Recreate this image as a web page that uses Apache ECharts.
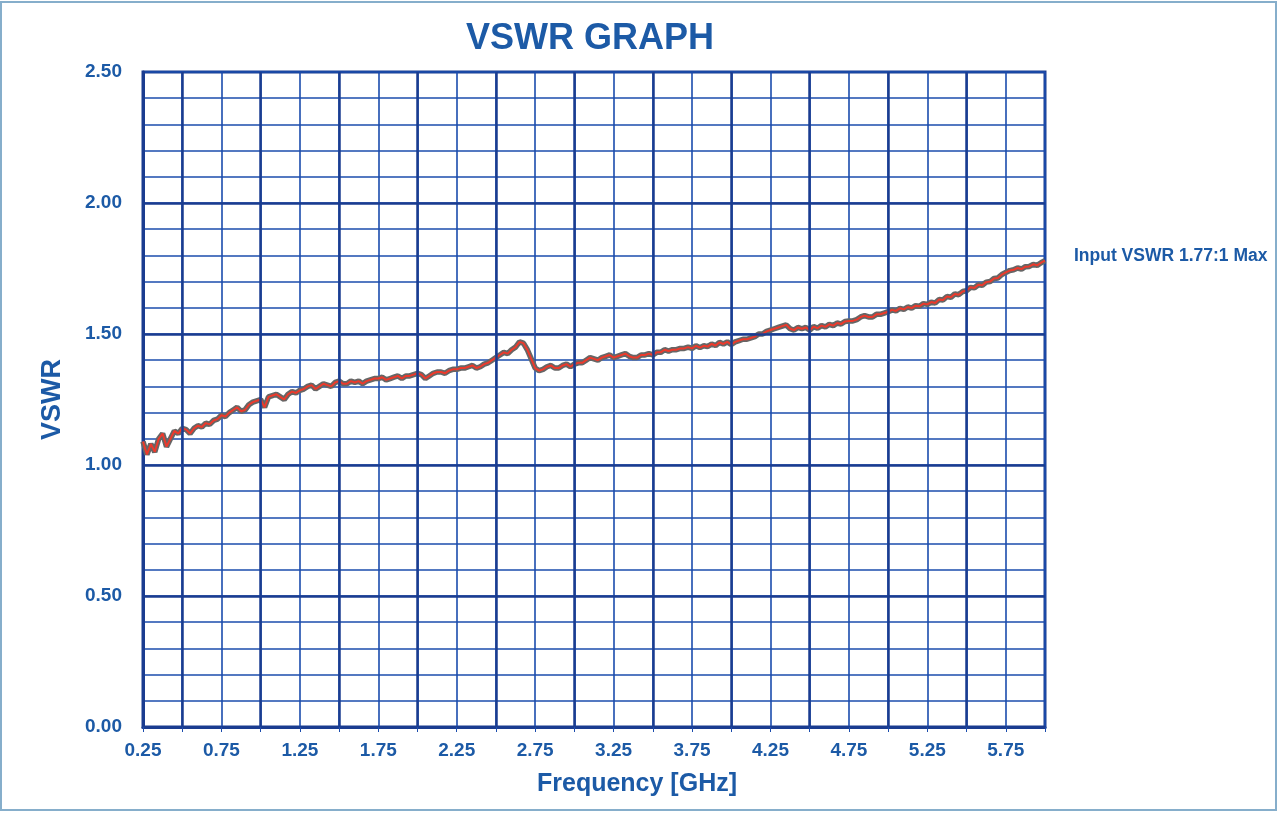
<!DOCTYPE html>
<html>
<head>
<meta charset="utf-8">
<script src="https://cdn.jsdelivr.net/npm/echarts@6/dist/echarts.min.js"></script>
<style>
  html, body { margin: 0; padding: 0; background: #fff; }
  #vswr { width: 1278px; height: 813px; }
</style>
</head>
<body>
<div id="vswr"></div>
<script>
// sweep frequencies [GHz], one row per 0.25 GHz
let freq = [
  0.25, 0.275, 0.30, 0.325, 0.35, 0.375, 0.40, 0.425, 0.45, 0.475,
  0.50, 0.525, 0.55, 0.575, 0.60, 0.625, 0.65, 0.675, 0.70, 0.725,
  0.75, 0.775, 0.80, 0.825, 0.85, 0.875, 0.90, 0.925, 0.95, 0.975,
  1.00, 1.025, 1.05, 1.075, 1.10, 1.125, 1.15, 1.175, 1.20, 1.225,
  1.25, 1.275, 1.30, 1.325, 1.35, 1.375, 1.40, 1.425, 1.45, 1.475,
  1.50, 1.525, 1.55, 1.575, 1.60, 1.625, 1.65, 1.675, 1.70, 1.725,
  1.75, 1.775, 1.80, 1.825, 1.85, 1.875, 1.90, 1.925, 1.95, 1.975,
  2.00, 2.025, 2.05, 2.075, 2.10, 2.125, 2.15, 2.175, 2.20, 2.225,
  2.25, 2.275, 2.30, 2.325, 2.35, 2.375, 2.40, 2.425, 2.45, 2.475,
  2.50, 2.525, 2.55, 2.575, 2.60, 2.625, 2.65, 2.675, 2.70, 2.725,
  2.75, 2.775, 2.80, 2.825, 2.85, 2.875, 2.90, 2.925, 2.95, 2.975,
  3.00, 3.025, 3.05, 3.075, 3.10, 3.125, 3.15, 3.175, 3.20, 3.225,
  3.25, 3.275, 3.30, 3.325, 3.35, 3.375, 3.40, 3.425, 3.45, 3.475,
  3.50, 3.525, 3.55, 3.575, 3.60, 3.625, 3.65, 3.675, 3.70, 3.725,
  3.75, 3.775, 3.80, 3.825, 3.85, 3.875, 3.90, 3.925, 3.95, 3.975,
  4.00, 4.025, 4.05, 4.075, 4.10, 4.125, 4.15, 4.175, 4.20, 4.225,
  4.25, 4.275, 4.30, 4.325, 4.35, 4.375, 4.40, 4.425, 4.45, 4.475,
  4.50, 4.525, 4.55, 4.575, 4.60, 4.625, 4.65, 4.675, 4.70, 4.725,
  4.75, 4.775, 4.80, 4.825, 4.85, 4.875, 4.90, 4.925, 4.95, 4.975,
  5.00, 5.025, 5.05, 5.075, 5.10, 5.125, 5.15, 5.175, 5.20, 5.225,
  5.25, 5.275, 5.30, 5.325, 5.35, 5.375, 5.40, 5.425, 5.45, 5.475,
  5.50, 5.525, 5.55, 5.575, 5.60, 5.625, 5.65, 5.675, 5.70, 5.725,
  5.75, 5.775, 5.80, 5.825, 5.85, 5.875, 5.90, 5.925, 5.95, 5.975,
  6.00
];
// VSWR, same layout as freq
let vswr = [
  1.09, 1.04, 1.08, 1.05, 1.10, 1.12, 1.07, 1.10, 1.13, 1.12,
  1.14, 1.135, 1.12, 1.14, 1.15, 1.145, 1.16, 1.155, 1.17, 1.175,
  1.19, 1.185, 1.20, 1.21, 1.22, 1.205, 1.21, 1.23, 1.24, 1.245,
  1.25, 1.22, 1.26, 1.265, 1.27, 1.26, 1.25, 1.27, 1.28, 1.275,
  1.285, 1.29, 1.30, 1.305, 1.29, 1.30, 1.31, 1.305, 1.30, 1.315,
  1.32, 1.31, 1.31, 1.32, 1.315, 1.32, 1.31, 1.32, 1.325, 1.33,
  1.33, 1.335, 1.325, 1.33, 1.335, 1.34, 1.33, 1.34, 1.34, 1.345,
  1.35, 1.345, 1.33, 1.34, 1.35, 1.355, 1.355, 1.35, 1.36, 1.365,
  1.365, 1.37, 1.37, 1.375, 1.38, 1.37, 1.375, 1.385, 1.39, 1.40,
  1.41, 1.42, 1.43, 1.425, 1.44, 1.45, 1.47, 1.465, 1.44, 1.405,
  1.37, 1.36, 1.365, 1.375, 1.38, 1.37, 1.37, 1.38, 1.385, 1.375,
  1.385, 1.39, 1.39, 1.40, 1.41, 1.405, 1.40, 1.41, 1.415, 1.42,
  1.41, 1.415, 1.42, 1.425, 1.415, 1.41, 1.41, 1.42, 1.42, 1.425,
  1.42, 1.43, 1.43, 1.44, 1.435, 1.44, 1.44, 1.445, 1.445, 1.45,
  1.445, 1.455, 1.448, 1.455, 1.452, 1.462, 1.456, 1.468, 1.462, 1.47,
  1.46, 1.47, 1.475, 1.48, 1.48, 1.485, 1.49, 1.50, 1.50, 1.51,
  1.515, 1.52, 1.525, 1.53, 1.535, 1.52, 1.515, 1.525, 1.52, 1.525,
  1.515, 1.528, 1.522, 1.532, 1.527, 1.537, 1.532, 1.542, 1.538, 1.548,
  1.55, 1.55, 1.555, 1.565, 1.57, 1.565, 1.565, 1.575, 1.575, 1.58,
  1.585, 1.592, 1.588, 1.598, 1.594, 1.603, 1.599, 1.608, 1.606, 1.616,
  1.613, 1.622, 1.618, 1.632, 1.63, 1.643, 1.64, 1.653, 1.65, 1.662,
  1.665, 1.678, 1.676, 1.688, 1.686, 1.698, 1.70, 1.712, 1.714, 1.727,
  1.735, 1.742, 1.745, 1.752, 1.748, 1.757, 1.758, 1.766, 1.762, 1.772,
  1.78
];
let xMin = 0.25, xMax = 6.0, xStep = 0.25;
let yMin = 0, yMax = 2.5, yStep = 0.1;

let blue = '#1c5aa6';
let gridBlue = '#1b4cad';
let darkBlue = '#1a3c90';
let font = 'Liberation Sans';

let pts = freq.map((f, i) => [f, vswr[i]]);

// heavier grid lines every 0.5 (both directions)
let heavy = [];
for (let v = 0.5; v < xMax; v += 0.5) heavy.push({ xAxis: v });
for (let v = 0.5; v < yMax; v += 0.5) heavy.push({ yAxis: v });

let myChart = echarts.init(document.getElementById('vswr'));
let option = {
  backgroundColor: '#fff',
  animation: false,
  title: [
    {
      text: 'VSWR GRAPH',
      left: 585, top: 16, textAlign: 'center',
      textStyle: { color: blue, fontSize: 36, fontWeight: 'bold', fontFamily: font }
    },
    {
      text: 'Input VSWR 1.77:1 Max',
      left: 1069, top: 242,
      textStyle: { color: blue, fontSize: 17.5, fontWeight: 'bold', fontFamily: font }
    }
  ],
  graphic: [{
    type: 'rect', shape: { x: 1, y: 2, width: 1275, height: 808 },
    style: { fill: 'none', stroke: '#86aecb', lineWidth: 2 }, silent: true
  }],
  grid: {
    left: 143, right: 233, top: 72, bottom: 86,
    show: true, borderColor: darkBlue, borderWidth: 3
  },
  xAxis: {
    type: 'value', min: xMin, max: xMax, interval: xStep,
    name: 'Frequency [GHz]', nameLocation: 'middle', nameGap: 45,
    nameTextStyle: { color: blue, fontSize: 25, fontWeight: 'bold', fontFamily: font, padding: [0, 0, 0, 86] },
    axisLine: { show: true, lineStyle: { color: darkBlue, width: 3 } },
    axisTick: { show: true, length: 5, lineStyle: { color: gridBlue } },
    axisLabel: {
      color: blue, fontSize: 19, fontWeight: 'bold', fontFamily: font, margin: 14,
      formatter: v => (Math.round((v - xMin) / xStep) % 2 === 0 ? v.toFixed(2) : '')
    },
    splitLine: { show: true, lineStyle: { color: gridBlue, width: 1.6 } }
  },
  yAxis: {
    type: 'value', min: yMin, max: yMax, interval: yStep,
    name: 'VSWR', nameLocation: 'middle', nameGap: 77, nameRotate: 90,
    nameTextStyle: { color: blue, fontSize: 27, fontWeight: 'bold', fontFamily: font },
    axisLine: { show: true, lineStyle: { color: darkBlue, width: 3 } },
    axisTick: { show: false },
    axisLabel: {
      color: blue, fontSize: 19, fontWeight: 'bold', fontFamily: font, margin: 21,
      formatter: v => (Math.round(v * 10) % 5 === 0 ? v.toFixed(2) : '')
    },
    splitLine: { show: true, lineStyle: { color: gridBlue, width: 1.6 } }
  },
  series: [
    {
      name: 'grid', type: 'line', data: [], silent: true,
      markLine: {
        silent: true, symbol: 'none', label: { show: false },
        lineStyle: { color: darkBlue, width: 2.5, type: 'solid' },
        data: heavy
      }
    },
    {
      name: 'outline', type: 'line', data: pts, showSymbol: false, silent: true,
      lineStyle: { color: '#666666', width: 5.5 }
    },
    {
      name: 'VSWR', type: 'line', data: pts, showSymbol: false,
      lineStyle: { color: '#ec3a2c', width: 2 }
    }
  ]
};
myChart.setOption(option);
</script>
</body>
</html>
